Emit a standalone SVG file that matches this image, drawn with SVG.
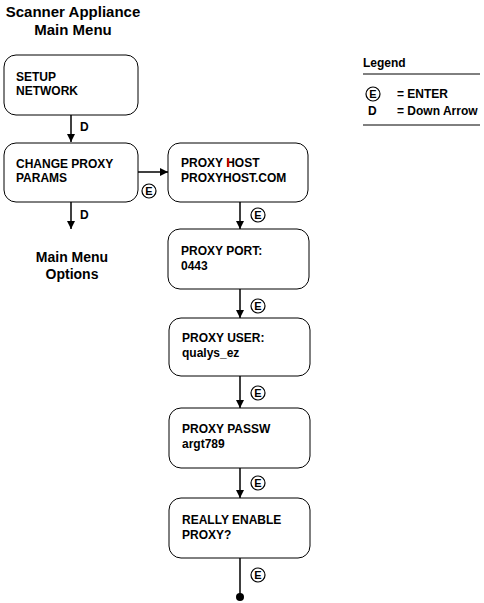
<svg xmlns="http://www.w3.org/2000/svg" width="484" height="603" viewBox="0 0 484 603">
<style>
  text { font-family: "Liberation Sans", Arial, sans-serif; font-weight: bold; fill: #000; }
  .title { font-size: 15px; text-anchor: middle; }
  .sub { font-size: 14px; text-anchor: middle; }
  .box { fill: #fff; stroke: #000; stroke-width: 1; }
  .lbl { font-size: 12px; }
  .small { font-size: 12px; }
  .conn { stroke: #000; stroke-width: 1.5; fill: none; }
  .ec { fill: #fff; stroke: #000; stroke-width: 1.2; }
  .et { font-size: 11px; text-anchor: middle; }
</style>
<defs>
  <marker id="ah" viewBox="0 0 10 10" refX="10" refY="5" markerWidth="8" markerHeight="9" markerUnits="userSpaceOnUse" orient="auto">
    <path d="M0,0 L10,5 L0,10 z" fill="#000"/>
  </marker>
</defs>

<g id="title">
  <text class="title" x="73" y="17">Scanner Appliance</text>
  <text class="title" x="73" y="35">Main Menu</text>
</g>

<g id="connectors">
  <line class="conn" x1="71" y1="115" x2="71" y2="142" marker-end="url(#ah)"/>
  <text class="small" x="80" y="131">D</text>
  <line class="conn" x1="71" y1="202" x2="71" y2="229" marker-end="url(#ah)"/>
  <text class="small" x="80" y="219">D</text>
  <line class="conn" x1="138" y1="172" x2="168" y2="172" marker-end="url(#ah)"/>
  <circle class="ec" cx="149" cy="191" r="7"/><text class="et" x="149" y="195">E</text>
  <line class="conn" x1="240" y1="202" x2="240" y2="229" marker-end="url(#ah)"/>
  <circle class="ec" cx="258" cy="215" r="7"/><text class="et" x="258" y="219">E</text>
  <line class="conn" x1="240" y1="289" x2="240" y2="318" marker-end="url(#ah)"/>
  <circle class="ec" cx="258" cy="306" r="7"/><text class="et" x="258" y="310">E</text>
  <line class="conn" x1="240" y1="376" x2="240" y2="408" marker-end="url(#ah)"/>
  <circle class="ec" cx="258" cy="393" r="7"/><text class="et" x="258" y="397">E</text>
  <line class="conn" x1="240" y1="468" x2="240" y2="498" marker-end="url(#ah)"/>
  <circle class="ec" cx="258" cy="483" r="7"/><text class="et" x="258" y="487">E</text>
  <line class="conn" x1="240" y1="558" x2="240" y2="597"/>
  <circle cx="240" cy="597" r="4" fill="#000"/>
  <circle class="ec" cx="258" cy="575" r="7"/><text class="et" x="258" y="579">E</text>
</g>

<g id="setup-network">
  <rect class="box" x="4" y="55" width="134" height="60" rx="12"/>
  <text class="lbl" x="16" y="81">SETUP</text>
  <text class="lbl" x="16" y="95">NETWORK</text>
</g>

<g id="change-proxy">
  <rect class="box" x="4" y="143" width="134" height="59" rx="12"/>
  <text class="lbl" x="16" y="168">CHANGE PROXY</text>
  <text class="lbl" x="16" y="182">PARAMS</text>
</g>

<g id="main-menu-options">
  <text class="sub" x="72" y="262">Main Menu</text>
  <text class="sub" x="72" y="279">Options</text>
</g>

<g id="proxy-host">
  <rect class="box" x="168" y="143" width="140" height="59" rx="12"/>
  <text class="lbl" x="181" y="167">PROXY HOST</text>
  <text class="lbl" x="181" y="182">PROXYHOST.COM</text>
  <line x1="228.3" y1="158.4" x2="228.3" y2="167" stroke="#e00000" stroke-width="1.8"/>
</g>

<g id="proxy-port">
  <rect class="box" x="168" y="229" width="141" height="60" rx="12"/>
  <text class="lbl" x="181" y="255">PROXY PORT:</text>
  <text class="lbl" x="181" y="270">0443</text>
</g>

<g id="proxy-user">
  <rect class="box" x="169" y="318" width="141" height="58" rx="12"/>
  <text class="lbl" x="182" y="342">PROXY USER:</text>
  <text class="lbl" x="182" y="357">qualys_ez</text>
</g>

<g id="proxy-passw">
  <rect class="box" x="169" y="408" width="141" height="60" rx="12"/>
  <text class="lbl" x="182" y="433">PROXY PASSW</text>
  <text class="lbl" x="182" y="448">argt789</text>
</g>

<g id="really-enable">
  <rect class="box" x="169" y="498" width="141" height="60" rx="12"/>
  <text class="lbl" x="182" y="524">REALLY ENABLE</text>
  <text class="lbl" x="182" y="539">PROXY?</text>
</g>

<g id="legend">
  <text class="small" x="363" y="67">Legend</text>
  <line x1="363" y1="74" x2="480" y2="74" stroke="#000" stroke-width="1"/>
  <circle class="ec" cx="373" cy="94" r="7"/><text class="et" x="373" y="98">E</text>
  <text class="small" x="397" y="98">= ENTER</text>
  <text class="small" x="368" y="115">D</text>
  <text class="small" x="397" y="115">= Down Arrow</text>
  <line x1="363" y1="125" x2="480" y2="125" stroke="#000" stroke-width="1"/>
</g>
</svg>
